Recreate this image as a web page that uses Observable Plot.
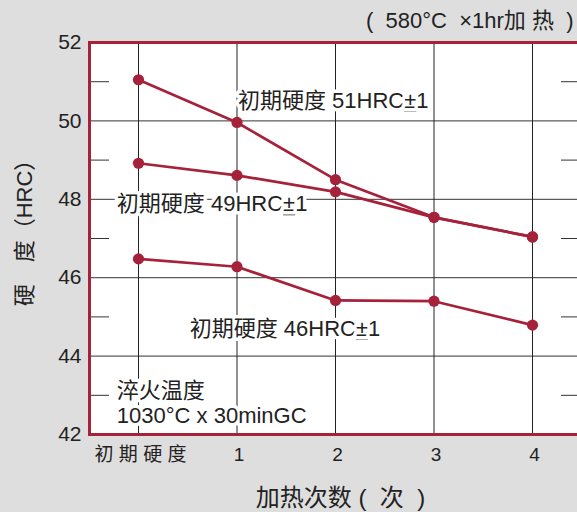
<!DOCTYPE html>
<html>
<head>
<meta charset="utf-8">
<script src="https://cdn.jsdelivr.net/npm/d3@7"></script>
<script src="https://cdn.jsdelivr.net/npm/@observablehq/plot@0.6"></script>
<style>
  html, body { margin: 0; padding: 0; background: #dedede; }
  #chart svg { display: block; }
</style>
</head>
<body>
<div id="chart"></div>
<script>
// ---- data ----
const steps = [0, 1, 2, 3, 4];
const stepLabels = ["初 期 硬 度", "1", "2", "3", "4"];
const hrc51 = [51.05, 49.96, 48.50, 47.54, 47.04];
const hrc49 = [48.92, 48.61, 48.19, 47.54, 47.04];
const hrc46 = [46.48, 46.28, 45.42, 45.40, 44.79];
const seriesNames = ["51", "49", "46"];
const yMajor = [42, 44, 46, 48, 50, 52];
const yMinor = [43, 45, 47, 49, 51];
const yGrid = [44, 46, 48, 50];

const annoText = ["初期硬度 51HRC±1", "初期硬度 49HRC±1", "初期硬度 46HRC±1", "淬火温度", "1030°C x 30minGC"];
const annoX = [1.01, -0.22, 0.52, -0.22, -0.22];
const annoY = [50.52, 47.88, 44.70, 43.12, 42.48];

const rows = [];
[hrc51, hrc49, hrc46].forEach((vals, i) =>
  vals.forEach((v, j) => rows.push({series: seriesNames[i], step: steps[j], hrc: v})));
const annos = annoText.map((t, i) => ({text: t, x: annoX[i], y: annoY[i]}));

const red = "#a5223a";
const ink = "#222";
const font = "'Liberation Sans', 'Noto Sans CJK SC', sans-serif";

const chart = Plot.plot({
  width: 577,
  height: 512,
  marginLeft: 89,
  marginRight: 0,
  marginTop: 42,
  marginBottom: 78,
  style: {background: "#dedede", fontFamily: font, color: ink},
  x: {domain: [0, 4], range: [138, 532], axis: null},
  y: {domain: [42, 52], axis: null},
  marks: [
    Plot.frame({fill: "white"}),
    Plot.ruleY(yGrid, {stroke: "#333", strokeWidth: 1}),
    Plot.ruleX(steps, {stroke: "#222", strokeWidth: 1}),
    Plot.axisY(yMinor, {anchor: "left", tickSize: -20, tickFormat: () => "", stroke: "#333"}),
    Plot.axisY(yMinor, {anchor: "right", tickSize: -17, tickFormat: () => "", stroke: "#333"}),
    Plot.axisY(yMajor, {anchor: "left", tickSize: 0, tickPadding: 8, fontSize: 21, fill: ink}),
    Plot.axisX(steps, {anchor: "bottom", tickSize: 0, tickPadding: 13, fontSize: 19, fill: ink, dx: 2,
      tickFormat: d => stepLabels[steps.indexOf(d)]}),
    Plot.text(annos, {x: "x", y: "y", text: "text", textAnchor: "start", fontSize: 22, fill: ink,
      stroke: "white", strokeWidth: 7, paintOrder: "stroke"}),
    Plot.line(rows, {x: "step", y: "hrc", z: "series", stroke: red, strokeWidth: 2.7}),
    Plot.dot(rows, {x: "step", y: "hrc", r: 5.6, fill: red}),
    Plot.frame({anchor: "left", stroke: red, strokeWidth: 3}),
    Plot.frame({anchor: "top", stroke: red, strokeWidth: 3}),
    Plot.frame({anchor: "bottom", stroke: red, strokeWidth: 3}),
    Plot.text(["(  580°C  ×1hr加 热  )"], {frameAnchor: "top-right", lineAnchor: "middle", textAnchor: "end",
      dx: -4, dy: -22, fontSize: 22, fill: ink}),
    Plot.text(["加热次数 (  次  )"], {frameAnchor: "bottom", lineAnchor: "middle", textAnchor: "middle",
      dx: 7, dy: 64, fontSize: 24, fill: ink}),
    Plot.text(["硬　度（HRC）"], {frameAnchor: "left", lineAnchor: "middle", textAnchor: "middle",
      dx: -65, dy: -11, rotate: -90, fontSize: 22, fill: ink})
  ]
});

// underline the ± sign in the annotation labels
d3.select(chart).selectAll("text").each(function () {
  const t = this;
  if (t.childElementCount === 0 && t.textContent.includes("±")) {
    const [a, b] = t.textContent.split("±");
    t.textContent = a;
    const ts = document.createElementNS("http://www.w3.org/2000/svg", "tspan");
    ts.textContent = "±";
    ts.setAttribute("text-decoration", "underline");
    ts.style.textDecoration = "underline";
    t.appendChild(ts);
    t.appendChild(document.createTextNode(b));
  }
});

document.getElementById("chart").appendChild(chart);
</script>
</body>
</html>
